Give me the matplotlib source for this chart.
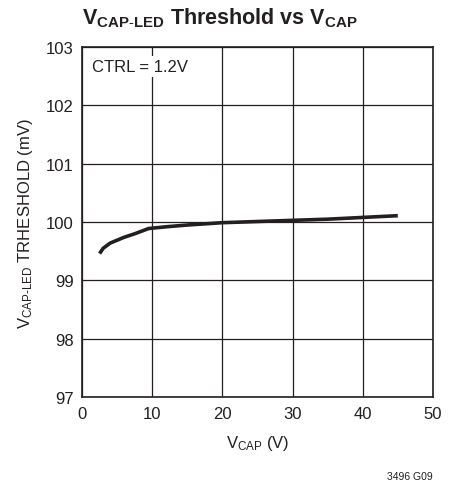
import matplotlib.pyplot as plt

plt.rcParams['font.family'] = ['Liberation Sans', 'DejaVu Sans']
plt.rcParams['mathtext.fontset'] = 'custom'
plt.rcParams['mathtext.rm'] = 'Liberation Sans'
plt.rcParams['mathtext.bf'] = 'Liberation Sans:bold'
plt.rcParams['mathtext.it'] = 'Liberation Sans'

# curve
vcap = [2.5, 3.0, 4.0, 5.0, 6.0, 7.5, 9.5, 12.0, 15.0, 20.0, 25.0, 30.0, 35.0, 40.0, 45.0]
threshold = [99.46, 99.55, 99.64, 99.69, 99.74, 99.80, 99.89, 99.92, 99.95, 99.99, 100.01, 100.03, 100.05, 100.08, 100.11]

xticks = [0, 10, 20, 30, 40, 50]
yticks = [97, 98, 99, 100, 101, 102, 103]

fig = plt.figure(figsize=(4.61, 4.85), dpi=100)
ax = fig.add_axes([0.178, 0.179, 0.761, 0.722])

ax.plot(vcap, threshold, color='#231f20', linewidth=2.6, solid_capstyle='butt', zorder=3)

ax.set_xlim(0, 50)
ax.set_ylim(97, 103)
ax.set_xticks(xticks)
ax.set_yticks(yticks)
ax.grid(True, color='#231f20', linewidth=0.9)
ax.tick_params(length=0, labelsize=12, pad=6, colors='#231f20')
for s in ax.spines.values():
    s.set_color('#231f20')
    s.set_linewidth(1.2)

ax.set_xlabel(r'V$_{\mathrm{CAP}}$ (V)', fontsize=12, color='#231f20', labelpad=9)
ax.set_ylabel(r'V$_{\mathrm{CAP\text{-}LED}}$ TRHESHOLD (mV)', fontsize=12, color='#231f20', labelpad=8)

ax.text(1.4, 102.67, 'CTRL = 1.2V', fontsize=12, color='#231f20', va='center', ha='left',
        bbox=dict(facecolor='white', edgecolor='none', pad=2), zorder=5)

fig.text(0.178, 0.963, r'$\mathbf{V_{CAP\text{-}LED}}$ Threshold vs $\mathbf{V_{CAP}}$',
         fontsize=15.5, fontweight='bold', color='#231f20', ha='left', va='center')
fig.text(0.938, 0.016, '3496 G09', fontsize=7.5, color='#231f20', ha='right', va='center')

fig.savefig('out.png', dpi=100)
